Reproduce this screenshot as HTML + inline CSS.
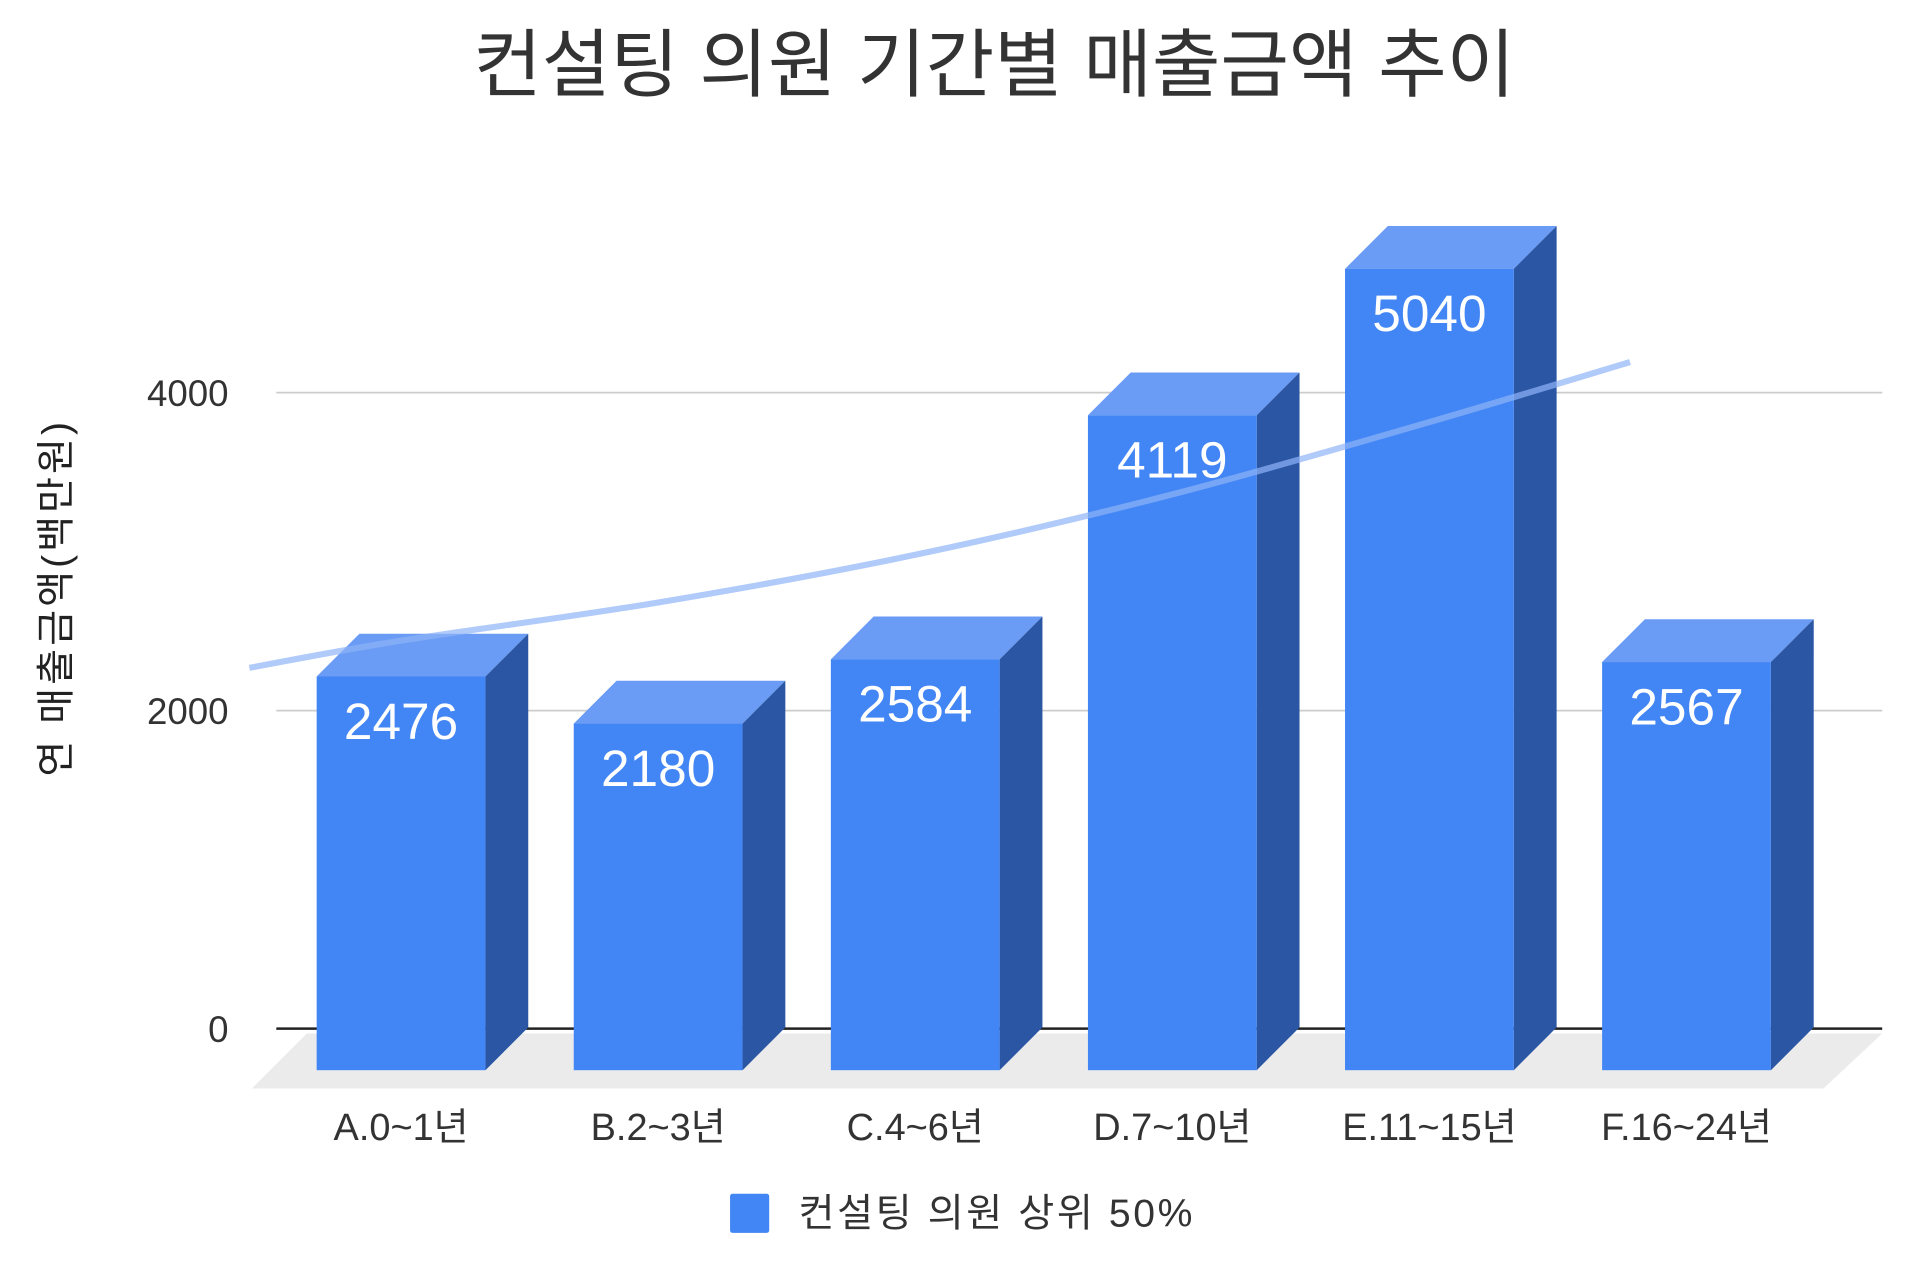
<!DOCTYPE html>
<html><head><meta charset="utf-8"><style>
html,body{margin:0;padding:0;background:#fff;}
svg{display:block;font-family:"Liberation Sans","Noto Sans CJK KR",sans-serif;}
</style></head><body>
<svg id="chart" width="1920" height="1272" viewBox="0 0 1568 1040" xmlns="http://www.w3.org/2000/svg">
<text x="812" y="74" text-anchor="middle" font-size="61" fill="#333" textLength="852">컨설팅 의원 기간별 매출금액 추이</text>
<polygon points="205,890 1490,890 1538,845 250,845" fill="#ebebeb"/>
<g id="grid"></g>
<g id="bars"></g>
<g id="trend"></g>
<g id="labels"></g>
<text transform="translate(56,490) rotate(-90)" text-anchor="middle" font-size="32" fill="#222" textLength="290">연 매출금액(백만원)</text>
<rect x="596" y="976" width="32" height="32" rx="2" fill="#4285f4"/>
<text x="652" y="1003" font-size="32" fill="#333" textLength="322">컨설팅 의원 상위 50%</text>
</svg>
<script>
const categories = ["A.0~1년","B.2~3년","C.4~6년","D.7~10년","E.11~15년","F.16~24년"];
const values = [2476,2180,2584,4119,5040,2567];
const yTicks = [0,2000,4000];
const trendIdx = [-0.59,0,1,2,3,4,4.78];
const trendVals = [2269,2440,2680,2980,3360,3815,4192];

const NS="http://www.w3.org/2000/svg";
const pxPerUnit=0.13, gridBase=841, frontBase=875, barW=138, dep=35;
function xLeft(i){return 258+i*210.2;}
function xCenter(i){return xLeft(i)+barW/2;}
function yGrid(v){return gridBase-v*pxPerUnit;}
function yFront(v){return frontBase-v*pxPerUnit;}
function mk(tag,attrs,parent){const e=document.createElementNS(NS,tag);for(const k in attrs)e.setAttribute(k,attrs[k]);parent.appendChild(e);return e;}

const grid=document.getElementById('grid');
yTicks.forEach(t=>{
  const l=mk('line',{x1:225,x2:1538,y1:yGrid(t),y2:yGrid(t),stroke:t===0?'#222':'#ccc','stroke-width':t===0?2:1.5},grid);
  
  
  const tx=mk('text',{x:186,y:yGrid(t)+11,'text-anchor':'end','font-size':30,fill:'#333'},grid);
  tx.textContent=t;
  
  
});

const bars=document.getElementById('bars');
values.forEach((v,i)=>{
  const x=xLeft(i), top=yFront(v);
  const g=mk('g',{},bars);
  
  
  mk('polygon',{points:`${x},${top} ${x+dep},${top-dep} ${x+barW+dep},${top-dep} ${x+barW},${top}`,fill:'#6a9bf5'},g);
  mk('polygon',{points:`${x+barW},${top} ${x+barW+dep},${top-dep} ${x+barW+dep},${frontBase-dep} ${x+barW},${frontBase}`,fill:'#2a56a4'},g);
  mk('rect',{x:x,y:top,width:barW,height:frontBase-top,fill:'#4285f4'},g);
  const vt=mk('text',{x:xCenter(i),y:top+51,'text-anchor':'middle','font-size':42,fill:'#fff'},g);
  vt.textContent=v;
  
  
});

const trend=document.getElementById('trend');
const pts=trendIdx.map((ix,k)=>[xCenter(ix),yGrid(trendVals[k])]);
let d='M'+pts[0][0]+','+pts[0][1];
for(let k=0;k<pts.length-1;k++){
  const p0=pts[Math.max(0,k-1)],p1=pts[k],p2=pts[k+1],p3=pts[Math.min(pts.length-1,k+2)];
  const c1=[p1[0]+(p2[0]-p0[0])/6,p1[1]+(p2[1]-p0[1])/6];
  const c2=[p2[0]-(p3[0]-p1[0])/6,p2[1]-(p3[1]-p1[1])/6];
  d+=` C${c1[0].toFixed(1)},${c1[1].toFixed(1)} ${c2[0].toFixed(1)},${c2[1].toFixed(1)} ${p2[0].toFixed(1)},${p2[1].toFixed(1)}`;
}
const tp=mk('path',{d:d,fill:'none',stroke:'#8fb4f8','stroke-width':5,'stroke-opacity':0.7,'stroke-linejoin':'round'},trend);



const labels=document.getElementById('labels');
categories.forEach((c,i)=>{
  const t=mk('text',{x:xCenter(i),y:932,'text-anchor':'middle','font-size':31,fill:'#333'},labels);
  t.textContent=c;
  
  
});
</script>
</body></html>
